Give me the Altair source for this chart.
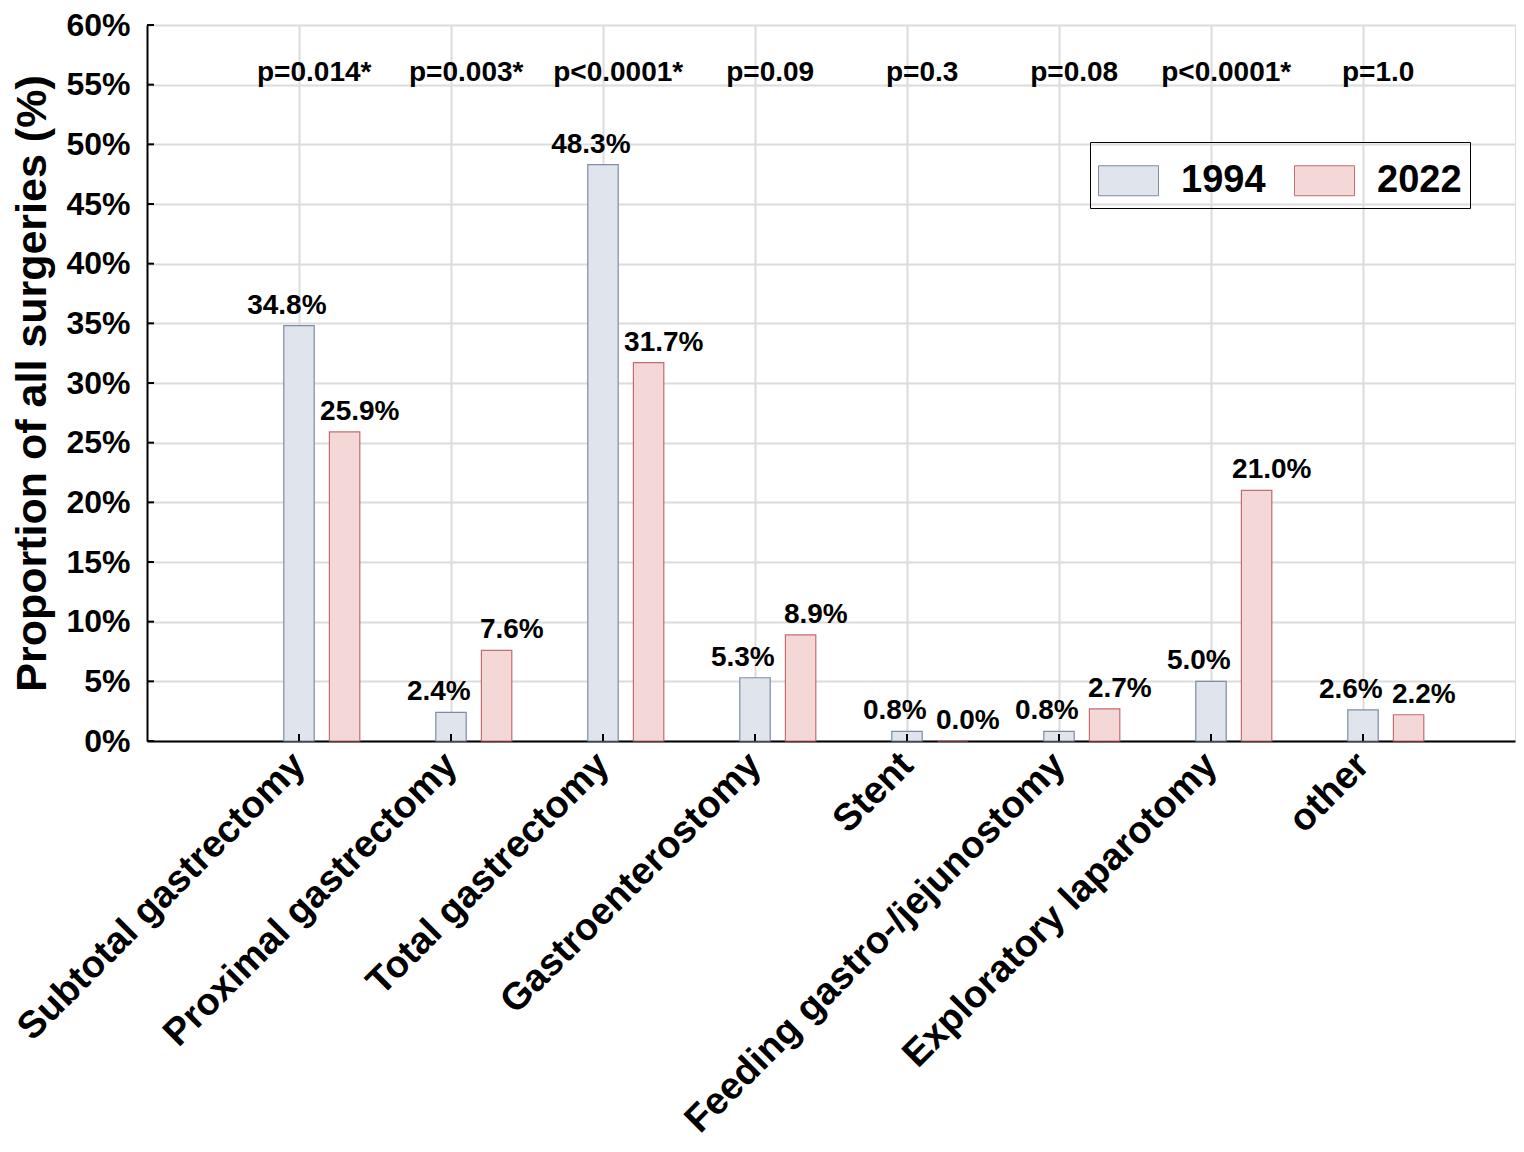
import altair as alt
import pandas as pd
import json

categories = ["Subtotal gastrectomy", "Proximal gastrectomy", "Total gastrectomy",
              "Gastroenterostomy", "Stent", "Feeding gastro-/jejunostomy",
              "Exploratory laparotomy", "other"]
v1994 = [34.8, 2.4, 48.3, 5.3, 0.8, 0.8, 5.0, 2.6]
v2022 = [25.9, 7.6, 31.7, 8.9, 0.0, 2.7, 21.0, 2.2]
pvals = ["p=0.014*", "p=0.003*", "p<0.0001*", "p=0.09", "p=0.3", "p=0.08", "p<0.0001*", "p=1.0"]
years = ["1994", "2022"]
yticks = list(range(0, 61, 5))

rows = []
for i, c in enumerate(categories):
    rows.append({"idx": i + 1, "cat": c, "year": "1994", "value": v1994[i]})
    rows.append({"idx": i + 1, "cat": c, "year": "2022", "value": v2022[i]})
df = pd.DataFrame(rows)
pdf = pd.DataFrame({"idx": list(range(1, len(categories) + 1)), "p": pvals})
ydf = pd.DataFrame({"t": yticks})

FONT = "Liberation Sans"
W, H = 1368, 716
label_expr = json.dumps(categories) + "[datum.value - 1]"

base = alt.Chart(df).transform_calculate(
    off="datum.year == '1994' ? 0 : 0.3"
).transform_calculate(
    xa="datum.idx + datum.off - 0.1",
    xb="datum.idx + datum.off + 0.1",
    xl="datum.idx + datum.off + (datum.year == '1994' ? -0.08 : 0.1)",
    lab="format(datum.value, '.1f') + '%'",
)

xscale = alt.Scale(domain=[0, 9], nice=False, zero=False)
yscale = alt.Scale(domain=[0, 60], nice=False)

xaxis = alt.Axis(title=None, values=list(range(1, 9)), labelExpr=label_expr,
                 labelAngle=-45, labelAlign="right", labelBaseline="middle",
                 labelFontSize=38, labelFont=FONT, labelFontWeight="bold",
                 labelColor="black", labelPadding=18, ticks=False,
                 domainColor="black", domainWidth=2, grid=True,
                 gridColor="#dcdcdc", gridWidth=2, labelLimit=0, labelOverlap=False)
yaxis = alt.Axis(title="Proportion of all surgeries (%)", values=yticks,
                 labelExpr="datum.value + '%'", labelFontSize=32, labelFont=FONT,
                 labelFontWeight="bold", labelColor="black", labelPadding=17,
                 ticks=False, domainColor="black", domainWidth=2,
                 grid=True, gridColor="#dcdcdc", gridWidth=2,
                 titleFontSize=43, titleFont=FONT, titleFontWeight="bold",
                 titleColor="black", titlePadding=11)

color = alt.Color("year:N", scale=alt.Scale(domain=years, range=["#e0e5ed", "#f4d8d8"]),
                  legend=alt.Legend(title=None, orient="none", legendX=943, legendY=117,
                                    direction="horizontal", strokeColor="black",
                                    padding=8, labelFontSize=38, labelFont=FONT,
                                    labelFontWeight="bold", labelColor="black",
                                    symbolType="M-1,-0.5H1V0.5H-1Z", symbolSize=3600,
                                    symbolStrokeWidth=1, labelOffset=22, columnPadding=26,
                                    symbolOpacity=1, offset=0))
stroke = alt.Stroke("year:N", scale=alt.Scale(domain=years, range=["#7d8da3", "#c46c6c"]),
                    legend=None)

bars = base.mark_bar(strokeWidth=1.2).encode(
    x=alt.X("xa:Q", scale=xscale, axis=xaxis),
    x2="xb:Q",
    y=alt.Y("value:Q", scale=yscale, axis=yaxis),
    y2=alt.datum(0),
    fill=color,
    stroke=stroke,
)

vals = base.mark_text(font=FONT, fontSize=28, fontWeight="bold", color="black",
                      baseline="bottom", dy=-6).encode(
    x=alt.X("xl:Q", scale=xscale, axis=xaxis),
    y=alt.Y("value:Q", scale=yscale, axis=yaxis),
    text="lab:N",
)

ptxt = alt.Chart(pdf).transform_calculate(xp="datum.idx + 0.1").mark_text(
    font=FONT, fontSize=28, fontWeight="bold", color="black", baseline="middle"
).encode(
    x=alt.X("xp:Q", scale=xscale, axis=xaxis),
    y=alt.datum(56, scale=yscale, axis=yaxis),
    text="p:N",
)

# inward tick marks
ytk = alt.Chart(ydf).mark_rule(color="black", strokeWidth=2).encode(
    x=alt.value(0), x2=alt.value(7),
    y=alt.Y("t:Q", scale=yscale, axis=yaxis),
)
xtk = alt.Chart(pdf).mark_rule(color="black", strokeWidth=2).encode(
    x=alt.X("idx:Q", scale=xscale, axis=xaxis),
    y=alt.value(H), y2=alt.value(H - 7),
)

chart = alt.layer(bars, vals, ptxt, ytk, xtk).properties(
    width=W, height=H,
    autosize=alt.AutoSizeParams(type="none"),
    padding={"left": 139, "top": 17, "right": 1, "bottom": 420},
).configure_view(stroke="black", strokeWidth=2).configure(background="white")

chart.save("out.html", embed_options={"renderer": "svg", "actions": False})
